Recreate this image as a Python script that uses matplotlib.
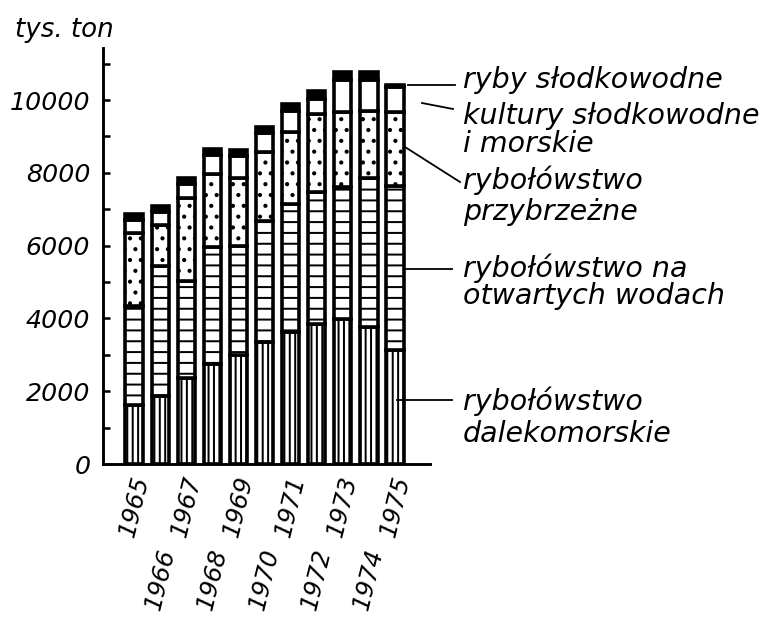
import matplotlib
matplotlib.use('Agg')
import matplotlib.pyplot as plt
import numpy as np

plt.rcParams['font.family'] = ['DejaVu Sans']
plt.rcParams['hatch.linewidth'] = 1.1

years = ['1965', '1966', '1967', '1968', '1969', '1970', '1971', '1972', '1973', '1974', '1975']
dalekomorskie = [1620, 1870, 2350, 2760, 2990, 3350, 3620, 3850, 3990, 3760, 3120]
otwarte_wody = [2710, 3580, 2690, 3190, 3010, 3330, 3520, 3610, 3610, 4110, 4520]
przybrzezne = [2030, 1120, 2260, 2010, 1870, 1900, 1980, 2150, 2070, 1830, 2040]
kultury = [340, 360, 400, 520, 580, 510, 590, 430, 880, 850, 680]
ryby_slodkowodne = [170, 170, 170, 170, 170, 170, 170, 220, 220, 220, 60]

series = [
    (dalekomorskie, 'white', '||||'),
    (otwarte_wody, 'white', '--'),
    (przybrzezne, 'white', '..'),
    (kultury, 'white', None),
    (ryby_slodkowodne, 'black', None),
]

DPI = 130
fig = plt.figure(figsize=(779 / DPI, 618 / DPI), dpi=DPI)
fig.patch.set_facecolor('white')
ax = fig.add_axes([103 / 779, (618 - 464) / 618, (430 - 103) / 779, (464 - 48) / 618])

x = np.arange(len(years))
bottom = np.zeros(len(years))
for vals, fc, hatch in series:
    ax.bar(x, vals, width=0.66, bottom=bottom, color=fc, edgecolor='black',
           linewidth=2.0, hatch=hatch, zorder=2)
    bottom += np.array(vals)

ax.set_xlim(-1.19, 11.34)
ax.set_ylim(0, 11430)

for s in ['top', 'right']:
    ax.spines[s].set_visible(False)
for s in ['left', 'bottom']:
    ax.spines[s].set_linewidth(1.6)

ax.set_yticks([0, 2000, 4000, 6000, 8000, 10000])
ax.set_yticks([1000, 3000, 5000, 7000, 9000, 11000], minor=True)
ax.tick_params(axis='y', which='both', direction='in', length=4, width=1.4)
ax.tick_params(axis='y', which='major', labelsize=14, pad=7)
for lab in ax.get_yticklabels():
    lab.set_style('italic')
ax.set_xticks([])

# staggered year labels
for i, yr in enumerate(years):
    yy = -0.101 if i % 2 == 0 else -0.278
    ax.text(x[i], yy, yr, transform=ax.get_xaxis_transform(), rotation=76,
            ha='center', va='center', fontsize=13.5, style='italic', clip_on=False)

fig.text(15 / 779, 1 - 30 / 618, 'tys. ton', fontsize=14.5, style='italic',
         ha='left', va='center')

# legend texts
labels = [
    ('ryby słodkowodne', 80),
    ('kultury słodkowodne', 116),
    ('i morskie', 144),
    ('rybołówstwo', 180),
    ('przybrzeżne', 212),
    ('rybołówstwo na', 268),
    ('otwartych wodach', 296),
    ('rybołówstwo', 401),
    ('dalekomorskie', 434),
]
for txt, py in labels:
    fig.text(463 / 779, 1 - py / 618, txt, fontsize=15.8, style='italic',
             ha='left', va='center')

# leader lines (figure pixel coordinates)
leaders = [
    ((408, 85), (455, 85)),
    ((422, 103), (453, 109)),
    ((405, 147), (460, 182)),
    ((405, 269), (452, 269)),
    ((397, 400), (452, 400)),
]
for (x0, y0), (x1, y1) in leaders:
    fig.add_artist(plt.Line2D([x0 / 779, x1 / 779], [1 - y0 / 618, 1 - y1 / 618],
                              transform=fig.transFigure, color='black', lw=1.0))

fig.savefig('out.png', dpi=DPI)
